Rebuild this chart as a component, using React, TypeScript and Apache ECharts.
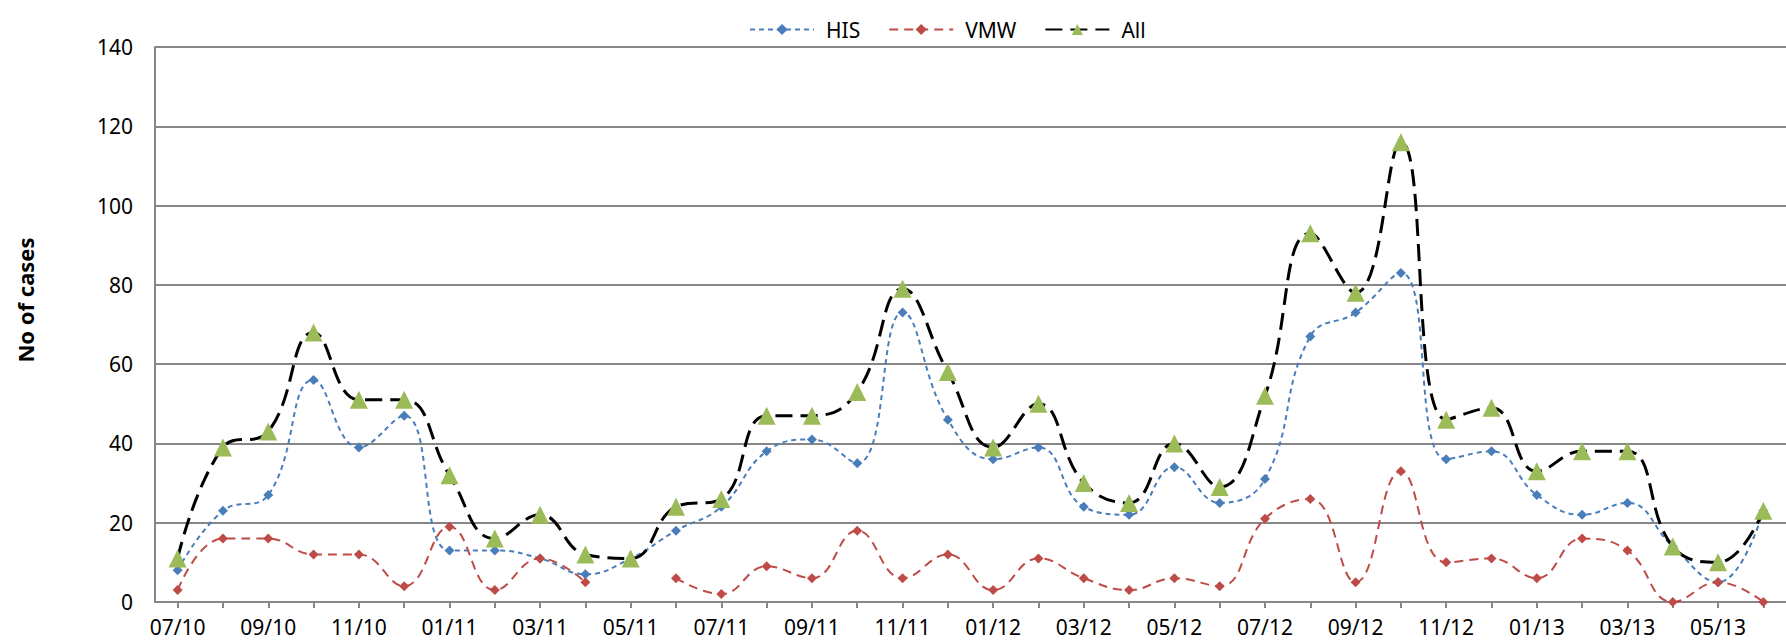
import React, { useEffect, useRef } from "react";
import * as echarts from "echarts";

const months = [
  "07/10", "08/10", "09/10", "10/10", "11/10", "12/10",
  "01/11", "02/11", "03/11", "04/11", "05/11", "06/11",
  "07/11", "08/11", "09/11", "10/11", "11/11", "12/11",
  "01/12", "02/12", "03/12", "04/12", "05/12", "06/12",
  "07/12", "08/12", "09/12", "10/12", "11/12", "12/12",
  "01/13", "02/13", "03/13", "04/13", "05/13", "06/13",
];

const hisValues = [
  8, 23, 27, 56, 39, 47,
  13, 13, 11, 7, 11, 18,
  24, 38, 41, 35, 73, 46,
  36, 39, 24, 22, 34, 25,
  31, 67, 73, 83, 36, 38,
  27, 22, 25, 14, 5, 23,
];

const vmwValues: (number | null)[] = [
  3, 16, 16, 12, 12, 4,
  19, 3, 11, 5, null, 6,
  2, 9, 6, 18, 6, 12,
  3, 11, 6, 3, 6, 4,
  21, 26, 5, 33, 10, 11,
  6, 16, 13, 0, 5, 0,
];

const allValues = [
  11, 39, 43, 68, 51, 51,
  32, 16, 22, 12, 11, 24,
  26, 47, 47, 53, 79, 58,
  39, 50, 30, 25, 40, 29,
  52, 93, 78, 116, 46, 49,
  33, 38, 38, 14, 10, 23,
];

const yTicks = { min: 0, max: 140, interval: 20 };
const FONT = "'Noto Sans', sans-serif";

export default function App() {
  const ref = useRef<HTMLDivElement>(null);
  useEffect(() => {
    document.body.style.margin = "0";
    if (!ref.current) return;
    const chart = echarts.init(ref.current, null, { renderer: "svg" });
    chart.setOption({
      animation: false,
      backgroundColor: "#ffffff",
      textStyle: { fontFamily: FONT },
      grid: { left: 155, top: 47, right: -15, bottom: 40, containLabel: false },
      legend: {
        left: 744,
        top: 14,
        itemWidth: 64,
        itemHeight: 14,
        itemGap: 28,
        textStyle: { fontFamily: FONT, fontSize: 21, color: "#000", padding: [0, 0, 0, 7] },
        data: ["HIS", "VMW", "All"],
      },
      graphic: [
        {
          type: "text",
          x: 25,
          y: 300,
          rotation: Math.PI / 2,
          style: {
            text: "No of cases",
            fontFamily: FONT,
            fontSize: 22,
            fontWeight: "bold",
            fill: "#000",
            align: "center",
            verticalAlign: "middle",
          },
        },
      ],
      xAxis: {
        type: "category",
        data: months,
        boundaryGap: true,
        axisLine: { lineStyle: { color: "#868686", width: 2 } },
        axisTick: { show: true, alignWithLabel: true, interval: 0, length: 6, lineStyle: { color: "#868686", width: 2 } },
        axisLabel: { interval: 1, margin: 14, fontSize: 21, color: "#000", fontFamily: FONT },
        splitLine: { show: false },
      },
      yAxis: {
        type: "value",
        min: yTicks.min,
        max: yTicks.max,
        interval: yTicks.interval,
        axisLine: { show: true, lineStyle: { color: "#868686", width: 2 } },
        axisTick: { show: false },
        axisLabel: { margin: 22, fontSize: 21, color: "#000", fontFamily: FONT },
        splitLine: { show: true, lineStyle: { color: "#868686", width: 2 } },
      },
      series: [
        {
          name: "HIS",
          type: "line",
          data: hisValues,
          smooth: 0.45,
          symbol: "diamond",
          symbolSize: 10,
          itemStyle: { color: "#4a7ebb" },
          lineStyle: { color: "#4a7ebb", width: 2, type: [5, 4] },
          z: 3,
        },
        {
          name: "VMW",
          type: "line",
          data: vmwValues,
          smooth: 0.45,
          connectNulls: false,
          symbol: "diamond",
          symbolSize: 10,
          itemStyle: { color: "#be4b48" },
          lineStyle: { color: "#be4b48", width: 2, type: [9, 6] },
          z: 4,
        },
        {
          name: "All",
          type: "line",
          data: allValues,
          smooth: 0.45,
          symbol: "triangle",
          symbolSize: 18,
          itemStyle: { color: "#9bbb59" },
          lineStyle: { color: "#000000", width: 3, type: [17, 8] },
          z: 5,
        },
      ],
    });
    return () => chart.dispose();
  }, []);
  return (
    <div
      ref={ref}
      style={{ position: "absolute", left: 0, top: 0, width: 1786, height: 642 }}
    />
  );
}
